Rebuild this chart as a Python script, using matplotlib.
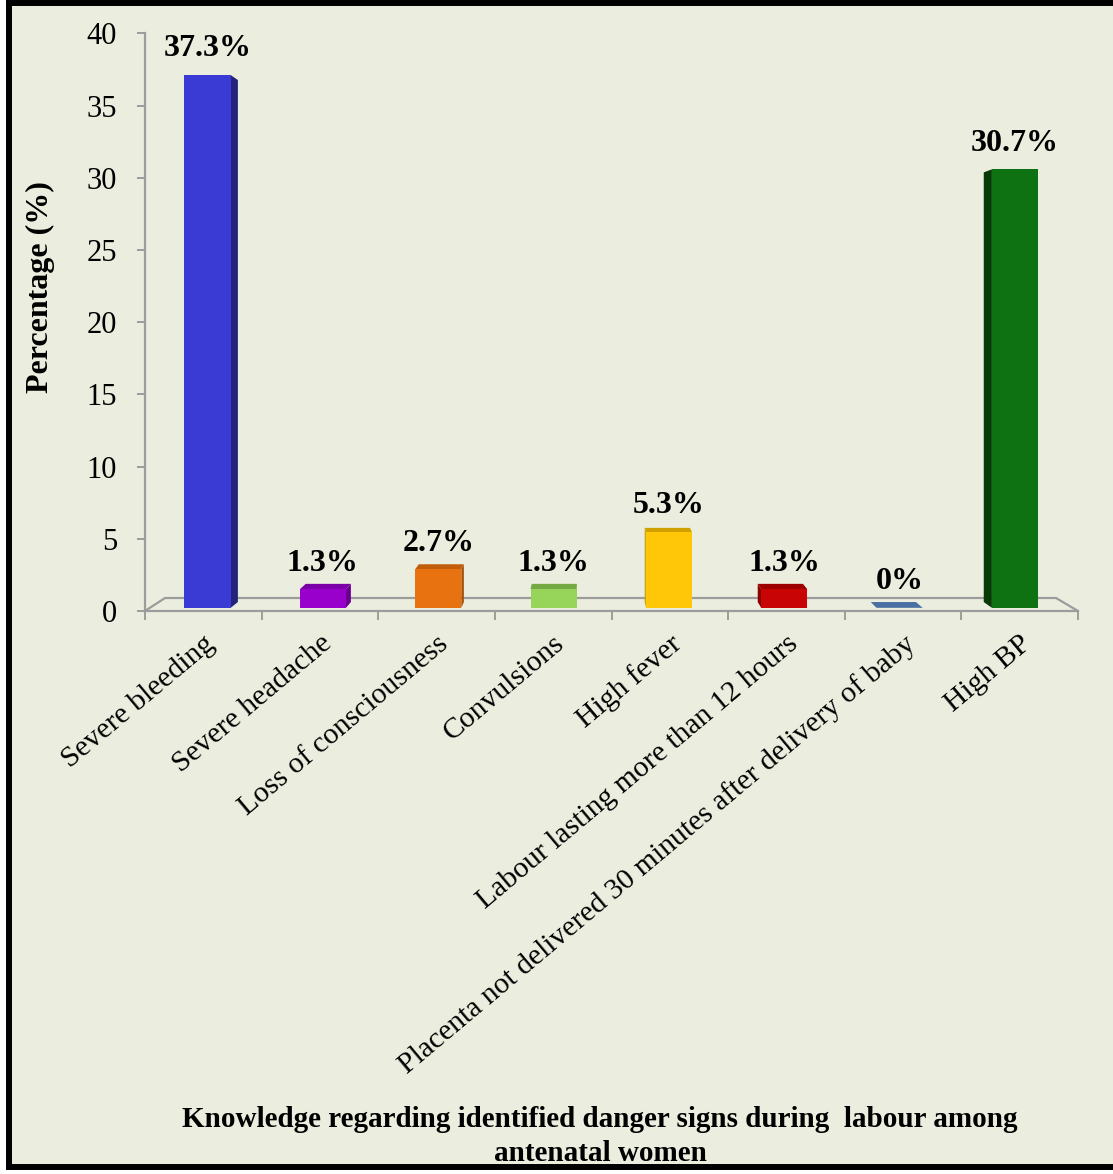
import numpy as np
import matplotlib.pyplot as plt
from matplotlib.patches import Polygon, Rectangle

plt.rcParams['font.family'] = ['Liberation Serif', 'DejaVu Serif']

# ---- data ----
categories = [
    "Severe bleeding",
    "Severe headache",
    "Loss of consciousness",
    "Convulsions",
    "High fever",
    "Labour lasting more than 12 hours",
    "Placenta not delivered 30 minutes after delivery of baby",
    "High BP",
]
values = [37.3, 1.3, 2.7, 1.3, 5.3, 1.3, 0.0, 30.7]
value_labels = ["37.3%", "1.3%", "2.7%", "1.3%", "5.3%", "1.3%", "0%", "30.7%"]
y_ticks = [0, 5, 10, 15, 20, 25, 30, 35, 40]

front_colors = ["#3A3AD4", "#9A00CC", "#E8720F", "#96D55A", "#FFC708", "#C80404", "#4A6FA3", "#0E7212"]
side_colors = ["#23237E", "#6B008F", "#A9520A", "#6C9C3E", "#C49A00", "#8A0000", "#3A5A88", "#063B06"]
top_colors = ["#2C2CA8", "#7C00A8", "#C05E0C", "#76A844", "#CFA000", "#9C0000", "#4A6FA3", "#0A500C"]

BG = "#EBEEDE"
AXIS_GRAY = "#9C9C9C"

W, H = 1113, 1174
fig = plt.figure(figsize=(W / 100, H / 100), dpi=100, facecolor="white")

# framed panel
fig.patches.append(Rectangle((9 / W, 7 / H), 1.2, (1164) / H, transform=fig.transFigure,
                             facecolor=BG, edgecolor="black", lw=4.3, zorder=-10))

# plot area (pixel geometry of the value/category axes)
left, right, top, bottom = 145, 1078, 33.3, 611
ax = fig.add_axes([left / W, 1 - bottom / H, (right - left) / W, (bottom - top) / H])
ax.set_zorder(5)
ax.set_facecolor("none")
ax.set_xlim(0, 8)
ax.set_ylim(0, 40)

for side in ("top", "right"):
    ax.spines[side].set_visible(False)
for side in ("left", "bottom"):
    ax.spines[side].set_color(AXIS_GRAY)
    ax.spines[side].set_linewidth(1.6)

ax.set_yticks(y_ticks)
ax.set_yticklabels([str(t) for t in y_ticks])
ax.set_xticks(np.arange(0, 9))
ax.set_xticklabels([])
ax.tick_params(axis="y", which="major", length=6, width=1.4, color=AXIS_GRAY,
               labelsize=22, pad=14)
ax.tick_params(axis="x", which="major", length=6.5, width=1.4, color=AXIS_GRAY)

ax.set_xticks(np.arange(len(categories)) + 0.5, minor=True)
ax.set_xticklabels(categories, minor=True, rotation=40, ha="right",
                   rotation_mode="anchor", fontsize=21.3)
ax.tick_params(axis="x", which="minor", length=0, pad=14)

# simple perspective: points recede toward a vanishing point
VX, VY = 3.81, 20.0


def proj(x, y, s):
    return (VX + (x - VX) * s, VY + (y - VY) * s)


S_FLOOR_BACK = 0.955
S_BAR_FRONT = 0.989
S_BAR_BACK = 0.969

# floor outline
floor_pts = [proj(0, 0, 1.0), proj(0, 0, S_FLOOR_BACK), proj(8, 0, S_FLOOR_BACK), proj(8, 0, 1.0)]
fx, fy = zip(*floor_pts)
ax.plot(fx, fy, color=AXIS_GRAY, lw=1.6, clip_on=False, zorder=1, solid_capstyle="butt")

half_w = 0.2
for i, v in enumerate(values):
    cx = i + 0.5
    x0, x1 = cx - half_w, cx + half_w
    f, b = S_BAR_FRONT, S_BAR_BACK
    # side face
    if x1 < VX:
        side_pts = [proj(x1, 0, f), proj(x1, v, f), proj(x1, v, b), proj(x1, 0, b)]
        ax.add_patch(Polygon(side_pts, closed=True, facecolor=side_colors[i], edgecolor="none", zorder=2))
    elif x0 > VX:
        side_pts = [proj(x0, 0, f), proj(x0, v, f), proj(x0, v, b), proj(x0, 0, b)]
        ax.add_patch(Polygon(side_pts, closed=True, facecolor=side_colors[i], edgecolor="none", zorder=2))
    # top face
    if v < VY:
        top_pts = [proj(x0, v, f), proj(x1, v, f), proj(x1, v, b), proj(x0, v, b)]
        ax.add_patch(Polygon(top_pts, closed=True, facecolor=top_colors[i], edgecolor="none", zorder=3))
    # front face
    if v > 0:
        front_pts = [proj(x0, 0, f), proj(x1, 0, f), proj(x1, v, f), proj(x0, v, f)]
        ax.add_patch(Polygon(front_pts, closed=True, facecolor=front_colors[i], edgecolor="none", zorder=4))
    # value label
    lx, ly = proj(cx, v, f)
    ax.annotate(value_labels[i], xy=(lx, ly), xytext=(0, 13.5), textcoords="offset points",
                ha="center", va="baseline", fontsize=23, fontweight="bold", zorder=5)

# value axis title
fig.text(40 / W, 1 - 287 / H, "Percentage (%)", rotation=90, ha="center", va="center",
         fontsize=23, fontweight="bold")

# chart title at the bottom
fig.text(600 / W, 1 - 1127 / H, "Knowledge regarding identified danger signs during  labour among",
         ha="center", va="baseline", fontsize=21, fontweight="bold")
fig.text(600 / W, 1 - 1161 / H, "antenatal women",
         ha="center", va="baseline", fontsize=21, fontweight="bold")

fig.savefig("out.png", dpi=100, facecolor="white")
